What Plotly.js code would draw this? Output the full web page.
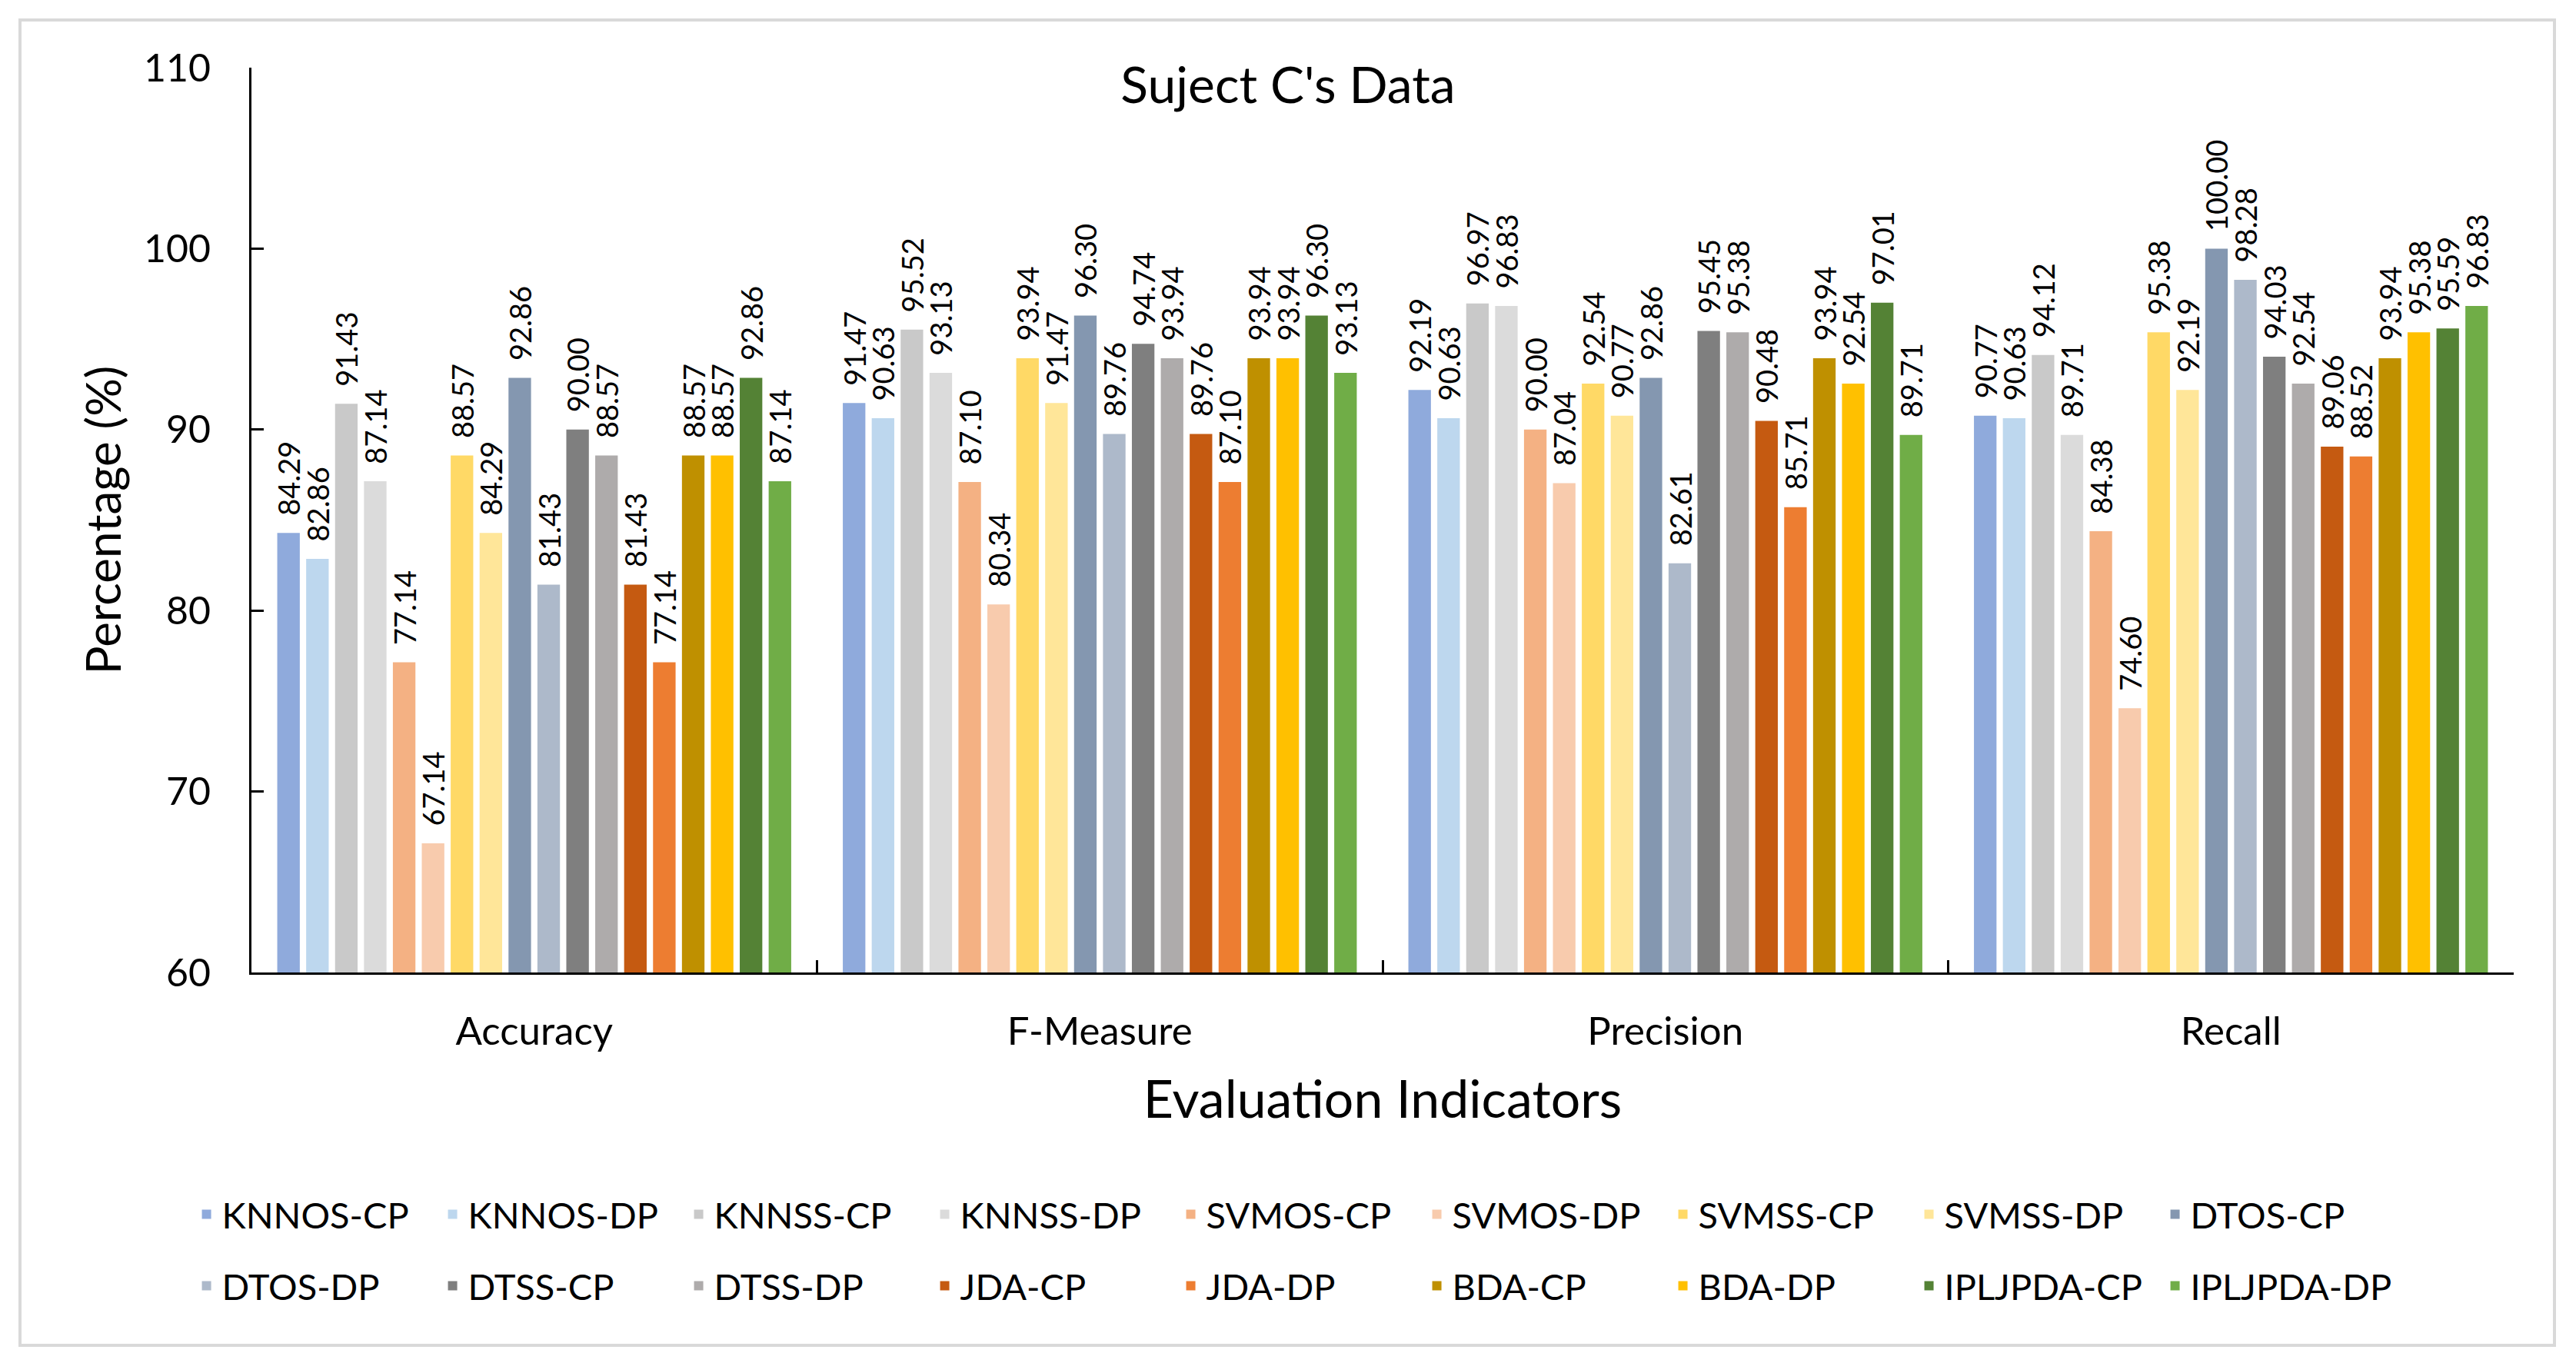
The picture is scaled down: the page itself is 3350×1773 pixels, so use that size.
<!DOCTYPE html>
<html>
<head>
<meta charset="utf-8">
<script src="https://cdn.plot.ly/plotly-3.0.1.min.js"></script>
<style>
  html, body { margin: 0; padding: 0; background: #ffffff; }
  #wrap { position: relative; width: 3350px; height: 1773px; }
  #chart { position: absolute; left: 0; top: 0; width: 3350px; height: 1773px; }
  #frame { position: absolute; left: 24px; top: 24px; width: 3292px; height: 1720px;
           border: 4px solid #d9d9d9; pointer-events: none; }
</style>
</head>
<body>
<div id="wrap">
  <div id="chart"></div>
  <div id="frame"></div>
</div>
<script>
// Categories (x axis)
const categories = ["Accuracy", "F-Measure", "Precision", "Recall"];

// Series names (legend order)
const seriesNames = [
  "KNNOS-CP", "KNNOS-DP", "KNNSS-CP", "KNNSS-DP",
  "SVMOS-CP", "SVMOS-DP", "SVMSS-CP", "SVMSS-DP",
  "DTOS-CP", "DTOS-DP", "DTSS-CP", "DTSS-DP",
  "JDA-CP", "JDA-DP", "BDA-CP", "BDA-DP",
  "IPLJPDA-CP", "IPLJPDA-DP"
];

// Values per evaluation indicator, in series order
const accuracy  = [84.29, 82.86, 91.43, 87.14, 77.14, 67.14, 88.57, 84.29, 92.86, 81.43, 90.00, 88.57, 81.43, 77.14, 88.57, 88.57, 92.86, 87.14];
const fMeasure  = [91.47, 90.63, 95.52, 93.13, 87.10, 80.34, 93.94, 91.47, 96.30, 89.76, 94.74, 93.94, 89.76, 87.10, 93.94, 93.94, 96.30, 93.13];
const precision = [92.19, 90.63, 96.97, 96.83, 90.00, 87.04, 92.54, 90.77, 92.86, 82.61, 95.45, 95.38, 90.48, 85.71, 93.94, 92.54, 97.01, 89.71];
const recall    = [90.77, 90.63, 94.12, 89.71, 84.38, 74.60, 95.38, 92.19, 100.00, 98.28, 94.03, 92.54, 89.06, 88.52, 93.94, 95.38, 95.59, 96.83];

// Series colours
const seriesColors = [
  "#8FAADC", "#BDD7EE", "#C9C9C9", "#DBDBDB",
  "#F4B183", "#F8CBAD", "#FFD966", "#FFE699",
  "#8497B0", "#ADB9CA", "#7F7F7F", "#AEABAB",
  "#C55A11", "#ED7D31", "#BF9000", "#FFC000",
  "#548235", "#70AD47"
];

const FONT = "Lato, 'Noto Sans', sans-serif";

const traces = seriesNames.map((name, i) => ({
  type: "bar",
  name: name,
  x: categories,
  y: [accuracy[i], fMeasure[i], precision[i], recall[i]],
  marker: { color: seriesColors[i], line: { width: 0 } },
  texttemplate: "\u00A0\u00A0%{y:.2f}",
  textposition: "outside",
  textangle: -90,
  constraintext: "none",
  cliponaxis: false,
  textfont: { family: FONT, size: 38, color: "#000000" },
  legend: i < 9 ? "legend" : "legend2",
  hoverinfo: "skip"
}));

const legendCommon = {
  orientation: "h",
  xref: "container",
  yref: "container",
  x: 0.0742,
  xanchor: "left",
  yanchor: "middle",
  entrywidth: 275,
  entrywidthmode: "pixels",
  font: { family: FONT, size: 47, color: "#000000" },
  bgcolor: "rgba(0,0,0,0)",
  borderwidth: 0,
  traceorder: "normal"
};

const layout = {
  width: 3350,
  height: 1773,
  paper_bgcolor: "#ffffff",
  plot_bgcolor: "#ffffff",
  margin: { l: 327, r: 81, t: 88, b: 508, pad: 0 },
  font: { family: FONT, color: "#000000" },
  title: {
    text: "Suject C's Data",
    font: { family: FONT, size: 66, color: "#000000" },
    xref: "container", yref: "container",
    x: 0.5, xanchor: "center",
    y: 1 - 111 / 1773, yanchor: "middle"
  },
  barmode: "group",
  bargap: 0.08,
  bargroupgap: 0.22,
  showlegend: true,
  legend: Object.assign({}, legendCommon, { y: 1 - 1580 / 1773 }),
  legend2: Object.assign({}, legendCommon, { y: 1 - 1673 / 1773 }),
  xaxis: {
    type: "category",
    showgrid: false,
    zeroline: false,
    showline: true,
    linecolor: "#000000",
    linewidth: 3,
    ticks: "inside",
    tickson: "boundaries",
    ticklen: 16,
    tickwidth: 3,
    tickcolor: "#000000",
    ticklabelstandoff: 30,
    tickfont: { family: FONT, size: 51, color: "#000000" },
    title: {
      text: "Evaluation Indicators",
      font: { family: FONT, size: 68, color: "#000000" },
      standoff: 38
    },
    automargin: false,
    fixedrange: true
  },
  yaxis: {
    range: [60, 110],
    dtick: 10,
    tick0: 60,
    showgrid: false,
    zeroline: false,
    showline: true,
    linecolor: "#000000",
    linewidth: 3,
    ticks: "inside",
    ticklen: 16,
    tickwidth: 3,
    tickcolor: "#000000",
    ticklabelstandoff: 40,
    tickfont: { family: FONT, size: 50, color: "#000000" },
    title: {
      text: "Percentage (%)",
      font: { family: FONT, size: 62, color: "#000000" },
      standoff: 10
    },
    automargin: false,
    fixedrange: true
  }
};

Plotly.newPlot("chart", traces, layout, { staticPlot: true, displayModeBar: false });
</script>
</body>
</html>
